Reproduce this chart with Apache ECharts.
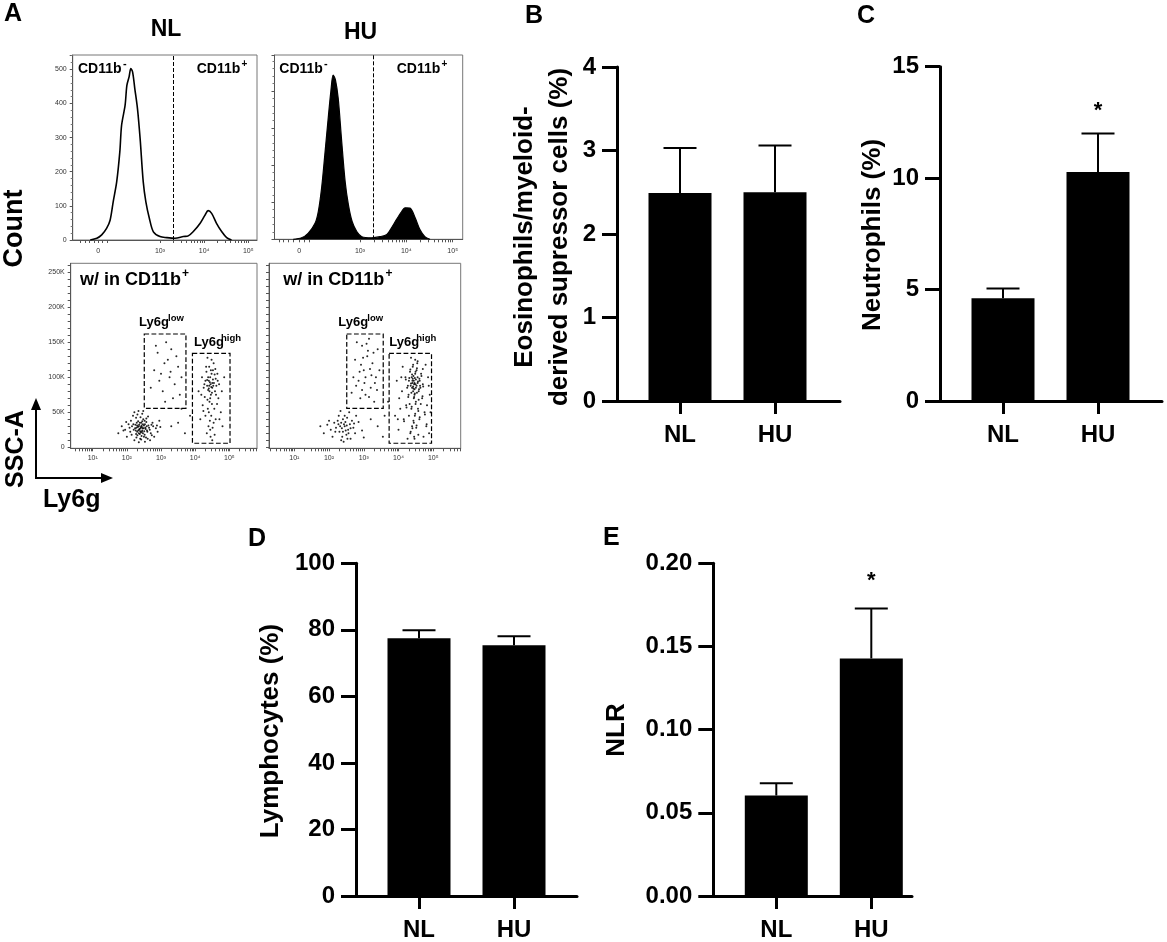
<!DOCTYPE html>
<html lang="en">
<head>
<meta charset="UTF-8">
<title>Figure</title>
<script src="https://cdn.jsdelivr.net/npm/echarts@6.0.0/dist/echarts.min.js"></script>
<style>
  html, body { margin: 0; padding: 0; background: #fff; }
  #main { width: 1167px; height: 942px; }
</style>
</head>
<body>
<div id="main"></div>
<script>
// ---- bar panels (B-E) ----
var groups = ['NL', 'HU'];
var eosMean = [2.49, 2.50];
var eosErr = [3.03, 3.06];
var neuMean = [4.61, 10.28];
var neuErr = [5.05, 12.0];
var neuStar = [null, 13.0];
var lymMean = [77.5, 75.4];
var lymErr = [79.9, 78.1];
var nlrMean = [0.0604, 0.1428];
var nlrErr = [0.0678, 0.1728];
var nlrStar = [null, 0.1896];

// ---- panel A: histograms, x in decades (10^3 = 3), y = count ----
var histNL = [[1.42,0],[1.57,5],[1.68,15],[1.79,34],[1.87,58],[1.94,112],[2.02,171],[2.09,258],[2.13,336],
  [2.21,395],[2.25,453],[2.30,478],[2.34,502],[2.38,492],[2.43,443],[2.49,385],[2.55,297],[2.62,171],
  [2.68,112],[2.76,63],[2.85,24],[3.0,10],[3.15,7],[3.34,5],[3.53,10],[3.64,12],[3.75,24],[3.91,49],
  [4.02,73],[4.09,86],[4.17,78],[4.28,49],[4.40,24],[4.51,7],[4.62,0]];
var histHU = [[1.56,0],[1.74,4],[1.88,16],[2.03,43],[2.10,75],[2.17,137],[2.24,227],[2.32,335],[2.37,398],
  [2.42,443],[2.47,430],[2.53,380],[2.60,272],[2.68,155],[2.75,93],[2.83,48],[2.93,21],[3.04,7],[3.25,4],
  [3.43,7],[3.58,13],[3.68,31],[3.79,54],[3.90,75],[3.97,85],[4.08,84],[4.19,58],[4.29,27],[4.40,7],[4.51,0]];
var gateNL = 3.30, gateHU = 3.29;

// ---- panel A: dot plots, x in decades (10^1 = 1), y = SSC-A in K ----
var dotNLneg = [[2.40,27],[2.35,30],[2.45,24],[2.30,22],[2.50,31],[2.42,35],[2.28,28],[2.55,26],[2.38,19],[2.47,33],
  [2.20,25],[2.60,22],[2.33,37],[2.52,18],[2.44,29],[2.36,25],[2.25,32],[2.58,30],[2.41,21],[2.31,17],
  [2.15,30],[2.65,28],[2.48,40],[2.10,22],[2.70,20],[2.27,42],[2.56,14],[2.39,12],[2.05,33],[2.75,35],
  [1.95,25],[2.85,27],[2.18,45],[2.62,44],[2.00,15],[2.80,15],[2.45,48],[2.22,10],[2.68,10],[1.85,30],
  [2.90,22],[2.34,52],[2.53,8],[1.75,20],[2.95,38],[2.12,38],[2.72,32],[2.43,16],[2.29,35],[2.57,36],
  [2.37,26],[2.46,27],[2.32,29],[2.51,23],[2.43,31],[2.39,23],[2.54,28],[2.26,24],
  [2.36,32],[2.44,22],[2.49,27],[2.33,24],[2.41,29],[2.47,20],[2.30,31],[2.53,33],[2.38,35],[2.45,37],
  [2.24,27],[2.59,24],[2.35,20],[2.50,15],[2.27,19],[2.63,31],[2.40,43],[2.19,33],[2.67,25],[2.42,11],
  [2.08,28],[2.77,30],[2.31,47],[2.57,41],[2.14,18],[2.73,17],[1.98,36],[2.88,31],[2.48,52],[2.22,50],
  [2.61,12],[2.35,7],[1.90,24],[2.98,29],[2.52,38],[2.28,14],
  [3.50,35],[3.70,20],[3.60,55],[3.85,45],[3.30,30]];
var dotNLlow = [[3.10,120],[3.25,100],[2.90,135],[3.40,90],[3.05,80],[3.30,140],[2.80,110],[3.50,115],[3.15,150],
  [2.95,95],[3.35,70],[3.20,125],[3.60,100],[2.70,85],[3.00,105],[3.45,130],[3.12,65],[2.85,145],[3.55,75],[3.28,108]];
var dotNLhigh = [[4.45,90],[4.40,95],[4.50,85],[4.38,100],[4.55,92],[4.42,80],[4.48,105],[4.35,88],[4.60,98],[4.46,75],
  [4.30,95],[4.52,110],[4.44,70],[4.58,80],[4.33,108],[4.62,88],[4.41,115],[4.49,62],[4.25,85],[4.65,105],
  [4.37,55],[4.54,120],[4.47,45],[4.28,72],[4.68,70],[4.43,38],[4.56,55],[4.20,100],[4.70,90],[4.39,30],
  [4.51,28],[4.34,20],[4.60,40],[4.45,15],[4.22,60],[4.75,50],[4.15,40],[4.80,30],[4.48,125],[4.36,128],
  [4.10,80],[4.85,100],[4.57,18],[4.30,45],[4.64,62],[4.43,93],[4.47,86],[4.40,84],[4.52,97],
  [4.44,100],[4.50,92],[4.41,88],[4.46,110],[4.38,82],[4.53,88],[4.35,96],[4.57,104],[4.42,65],[4.49,78],
  [4.32,115],[4.61,75],[4.40,50],[4.54,35],[4.27,90],[4.66,95],[4.44,25],[4.36,68],[4.59,112],[4.24,52],
  [4.71,40],[4.50,10],[4.18,75],[4.78,80]];
var dotHUneg = [[2.45,30],[2.35,35],[2.55,25],[2.30,22],[2.60,33],[2.40,40],[2.50,18],[2.20,28],[2.70,28],[2.38,15],
  [2.52,42],[2.15,35],[2.75,20],[2.28,45],[2.62,12],[2.05,25],[2.85,36],[2.42,8],[2.58,50],[1.95,32],
  [2.95,24],[2.10,15],[2.78,45],[2.33,52],[1.85,20],[3.00,14],[2.48,24],[2.25,38],[2.66,38],[1.75,30],
  [2.43,33],[2.37,27],[2.51,31],[2.47,36],[2.32,30],[2.56,20],[2.40,22],[2.62,27],[2.27,33],[2.53,12],
  [2.18,22],[2.72,34],[2.45,45],[2.35,10],[2.00,38],
  [3.40,30],[3.60,45],[3.55,15],[3.70,65],[3.20,40]];
var dotHUlow = [[3.00,110],[3.10,130],[2.85,95],[3.25,120],[2.95,145],[3.35,100],[3.05,75],[2.75,125],[3.20,85],
  [3.40,140],[2.90,70],[3.15,155],[3.30,65],[2.70,100],[3.45,110],[3.02,92],[2.80,150],[3.22,103],[3.12,138],
  [2.92,118],[3.38,82],[2.65,78],[3.05,100],[2.98,128],[3.18,112],[2.88,108],[3.28,135],[3.08,148],[2.78,88],
  [3.32,92],[3.15,72],[2.95,82]];
var dotHUhigh = [[4.45,90],[4.40,95],[4.50,85],[4.38,100],[4.55,92],[4.42,80],[4.48,105],[4.35,88],[4.60,98],[4.46,75],
  [4.30,95],[4.52,110],[4.44,70],[4.58,80],[4.33,108],[4.62,88],[4.41,115],[4.49,62],[4.25,85],[4.65,105],
  [4.37,55],[4.54,120],[4.47,45],[4.28,72],[4.68,70],[4.43,38],[4.56,55],[4.20,100],[4.70,90],[4.39,30],
  [4.51,28],[4.34,20],[4.60,40],[4.45,15],[4.22,60],[4.75,50],[4.15,40],[4.80,30],[4.48,125],[4.36,128],
  [4.10,80],[4.85,100],[4.57,18],[4.30,45],[4.64,62],[4.05,55],[4.90,75],[4.00,25],[4.88,20],[3.95,95],
  [4.40,92],[4.50,97],[4.46,83],[4.42,87],[4.53,78],[4.37,78],[4.43,102],[4.58,68],[4.32,62],[4.70,112],
  [3.90,45],[4.82,60],[4.12,115],[4.26,12],[4.72,15],[4.44,95],[4.49,90],[4.39,85],[4.55,100],[4.47,99],
  [4.46,92],[4.41,98],[4.52,88],[4.39,104],[4.56,94],[4.43,84],[4.49,108],[4.36,91],[4.61,95],[4.47,77],
  [4.31,99],[4.53,113],[4.45,72],[4.59,83],[4.34,111],[4.63,85],[4.42,118],[4.50,65],[4.27,88],[4.66,102],
  [4.38,58],[4.55,123],[4.48,48],[4.29,75],[4.69,73],[4.44,35],[4.57,52],[4.21,97],[4.71,87],[4.40,27],
  [4.52,31],[4.35,22],[4.61,43],[4.46,12],[4.23,57],[4.76,47],[4.16,37],[4.81,33],[4.02,70],[4.87,88],
  [3.98,40],[4.92,50],[4.08,100],[4.78,118]];
// gates: [x1, y1, x2, y2]
var gatesNL = [[2.51, 55.7, 3.73, 161.9], [3.92, 5.7, 5.02, 134.3]];
var gatesHU = [[2.51, 55.7, 3.56, 161.9], [3.73, 5.7, 4.95, 134.3]];

var FONT = "'Liberation Sans', Arial, Helvetica, sans-serif";
var sup = { '1': '\u00b9', '2': '\u00b2', '3': '\u00b3', '4': '\u2074', '5': '\u2075' };

function logTicks(lo, hi, majors) {
    var out = majors.slice();
    for (var d = 3; d <= 5; d++) {
        for (var k = 2; k <= 9; k++) {
            var v = d + Math.log10(k);
            if (v > lo && v < hi) out.push(v);
        }
    }
    return out;
}
function dotTicks(lo, hi) {
    var out = [];
    for (var d = 0; d <= 5; d++) {
        for (var k = 1; k <= 9; k++) {
            var v = d + Math.log10(k);
            if (v > lo && v < hi) out.push(v);
        }
    }
    return out;
}

var flowAxisLine = { show: true, onZero: false, lineStyle: { color: '#555', width: 1 } };
var flowLabel = { fontFamily: FONT, fontSize: 7, color: '#333' };

var grids = [], xAxes = [], yAxes = [], series = [];

// histogram NL
grids.push({ left: 72.7, top: 55, width: 184.3, height: 185 });
xAxes.push({ gridIndex: 0, type: 'value', min: 1.023, max: 5.197, splitLine: { show: false }, axisLine: flowAxisLine,
    axisTick: { customValues: logTicks(1.023, 5.197, [1.6, 3, 4, 5]).concat([1.2, 1.3, 1.4, 1.5, 1.7, 1.8]), length: 3, lineStyle: { color: '#555' } },
    axisLabel: Object.assign({ customValues: [1.6, 3, 4, 5], margin: 8,
        formatter: function (v) { return v < 2 ? '0' : '10' + sup[Math.round(v)]; } }, flowLabel) });
yAxes.push({ gridIndex: 0, type: 'value', min: 0, max: 542, interval: 100, splitLine: { show: false }, axisLine: flowAxisLine,
    axisTick: { length: 3, lineStyle: { color: '#555' } }, minorTick: { show: true, splitNumber: 5, length: 2, lineStyle: { color: '#777' } },
    axisLabel: Object.assign({ margin: 6, showMaxLabel: false }, flowLabel) });
// histogram HU
grids.push({ left: 274.5, top: 55, width: 188.2, height: 184.3 });
xAxes.push({ gridIndex: 1, type: 'value', min: 1.155, max: 5.216, splitLine: { show: false }, axisLine: flowAxisLine,
    axisTick: { customValues: logTicks(1.155, 5.216, [1.69, 3, 4, 5]).concat([1.25, 1.35, 1.45, 1.55, 1.8, 1.9]), length: 3, lineStyle: { color: '#555' } },
    axisLabel: Object.assign({ customValues: [1.69, 3, 4, 5], margin: 8,
        formatter: function (v) { return v < 2 ? '0' : '10' + sup[Math.round(v)]; } }, flowLabel) });
yAxes.push({ gridIndex: 1, type: 'value', min: 0, max: 497, interval: 100, splitLine: { show: false }, axisLine: flowAxisLine,
    axisTick: { length: 3, lineStyle: { color: '#555' } }, minorTick: { show: true, splitNumber: 5, length: 2, lineStyle: { color: '#777' } },
    axisLabel: { show: false } });
// dot plot NL
grids.push({ left: 70.7, top: 263.3, width: 186.3, height: 185 });
xAxes.push({ gridIndex: 2, type: 'value', min: 0.356, max: 5.81, splitLine: { show: false }, axisLine: flowAxisLine,
    axisTick: { customValues: dotTicks(0.356, 5.81), length: 3, lineStyle: { color: '#555' } },
    axisLabel: Object.assign({ customValues: [1, 2, 3, 4, 5], margin: 6,
        formatter: function (v) { return '10' + sup[Math.round(v)]; } }, flowLabel) });
var kTicks = [];
for (var i = 0; i <= 26; i++) kTicks.push(i * 10);
yAxes.push({ gridIndex: 2, type: 'value', min: -1.5, max: 263, splitLine: { show: false }, axisLine: flowAxisLine,
    axisTick: { customValues: kTicks, length: 3, lineStyle: { color: '#555' } },
    axisLabel: Object.assign({ customValues: [0, 50, 100, 150, 200, 250], margin: 6,
        formatter: function (v) { return v === 0 ? '0' : v + 'K'; } }, flowLabel) });
// dot plot HU
grids.push({ left: 269, top: 263.3, width: 191.7, height: 185 });
xAxes.push({ gridIndex: 3, type: 'value', min: 0.272, max: 5.79, splitLine: { show: false }, axisLine: flowAxisLine,
    axisTick: { customValues: dotTicks(0.272, 5.79), length: 3, lineStyle: { color: '#555' } },
    axisLabel: Object.assign({ customValues: [1, 2, 3, 4, 5], margin: 6,
        formatter: function (v) { return '10' + sup[Math.round(v)]; } }, flowLabel) });
yAxes.push({ gridIndex: 3, type: 'value', min: -1.5, max: 263, splitLine: { show: false }, axisLine: flowAxisLine,
    axisTick: { customValues: kTicks, length: 3, lineStyle: { color: '#555' } },
    axisLabel: { show: false } });

grids.forEach(function (g) { g.show = true; g.borderColor = '#777'; g.borderWidth = 1; });

series.push({ type: 'line', xAxisIndex: 0, yAxisIndex: 0, data: histNL, showSymbol: false, smooth: 0.3,
    lineStyle: { color: '#000', width: 1.6 }, itemStyle: { color: '#000' },
    markLine: { silent: true, symbol: 'none', label: { show: false }, lineStyle: { type: 'dashed', color: '#000', width: 1 }, data: [{ xAxis: gateNL }] } });
series.push({ type: 'line', xAxisIndex: 1, yAxisIndex: 1, data: histHU, showSymbol: false, smooth: 0.3,
    lineStyle: { color: '#000', width: 1.2 }, itemStyle: { color: '#000' }, areaStyle: { color: '#000', opacity: 1 },
    markLine: { silent: true, symbol: 'none', label: { show: false }, lineStyle: { type: 'dashed', color: '#000', width: 1 }, data: [{ xAxis: gateHU }] } });

function gateAreas(gates) {
    return gates.map(function (g) { return [{ coord: [g[0], g[3]] }, { coord: [g[2], g[1]] }]; });
}
var gateStyle = { color: 'rgba(0,0,0,0)', borderColor: '#000', borderWidth: 1.2, borderType: 'dashed' };
series.push({ type: 'scatter', xAxisIndex: 2, yAxisIndex: 2, data: dotNLneg.concat(dotNLlow, dotNLhigh),
    symbolSize: 2, itemStyle: { color: '#000', opacity: 0.85 },
    markArea: { silent: true, itemStyle: gateStyle, data: gateAreas(gatesNL) } });
series.push({ type: 'scatter', xAxisIndex: 3, yAxisIndex: 3, data: dotHUneg.concat(dotHUlow, dotHUhigh),
    symbolSize: 2, itemStyle: { color: '#000', opacity: 0.85 },
    markArea: { silent: true, itemStyle: gateStyle, data: gateAreas(gatesHU) } });

// ---- bar panels ----
var barPanels = [
    { ax: 617, end: 840, top: 67, bottom: 401, max: 4, step: 1, dec: 0, mean: eosMean, err: eosErr, star: null },
    { ax: 940, end: 1162, top: 66.7, bottom: 401, max: 15, step: 5, dec: 0, mean: neuMean, err: neuErr, star: neuStar },
    { ax: 356, end: 577, top: 563.3, bottom: 896.7, max: 100, step: 20, dec: 0, mean: lymMean, err: lymErr, star: null },
    { ax: 713.3, end: 912, top: 563.3, bottom: 896.7, max: 0.2, step: 0.05, dec: 2, mean: nlrMean, err: nlrErr, star: nlrStar }
];
var PX_PER_GROUP = 95, FIRST_OFFSET = 63, BAR_W = 63, CAP = 33;
var thick = { color: '#000', width: 3 };
var bigLabel = { fontFamily: FONT, fontSize: 24, fontWeight: 'bold', color: '#000' };

barPanels.forEach(function (p, n) {
    var gi = grids.length;
    var xmin = 1 - FIRST_OFFSET / PX_PER_GROUP;
    grids.push({ left: p.ax, top: p.top, width: p.end - p.ax, height: p.bottom - p.top });
    xAxes.push({ gridIndex: gi, type: 'value', min: xmin, max: xmin + (p.end - p.ax) / PX_PER_GROUP,
        splitLine: { show: false }, axisLine: { show: true, onZero: false, lineStyle: thick },
        axisTick: { customValues: [1, 2], length: 13, lineStyle: thick },
        axisLabel: Object.assign({ customValues: [1, 2], margin: 22,
            formatter: function (v) { return groups[Math.round(v) - 1]; } }, bigLabel) });
    yAxes.push({ gridIndex: gi, type: 'value', min: 0, max: p.max, interval: p.step,
        splitLine: { show: false }, axisLine: { show: true, onZero: false, lineStyle: thick },
        axisTick: { length: 15, lineStyle: thick },
        axisLabel: Object.assign({ margin: 21, formatter: function (v) { return v.toFixed(p.dec); } }, bigLabel) });
    series.push({ type: 'bar', xAxisIndex: gi, yAxisIndex: gi, barWidth: BAR_W, z: 3,
        itemStyle: { color: '#000' },
        data: p.mean.map(function (m, i) { return [i + 1, m]; }) });
    series.push({ type: 'custom', xAxisIndex: gi, yAxisIndex: gi, z: 2,
        data: p.mean.map(function (m, i) { return [i + 1, m, p.err[i], p.star ? p.star[i] : null]; }),
        renderItem: function (params, api) {
            var x = api.value(0);
            var a = api.coord([x, api.value(1)]);
            var b = api.coord([x, api.value(2)]);
            var kids = [
                { type: 'line', shape: { x1: a[0], y1: a[1], x2: b[0], y2: b[1] }, style: { stroke: '#000', lineWidth: 2 } },
                { type: 'line', shape: { x1: b[0] - CAP / 2, y1: b[1], x2: b[0] + CAP / 2, y2: b[1] }, style: { stroke: '#000', lineWidth: 2 } }
            ];
            var s = api.value(3);
            if (s !== null && !isNaN(s)) {
                var c = api.coord([x, s]);
                kids.push({ type: 'text', x: c[0], y: c[1], style: { text: '*', fontFamily: FONT, fontSize: 22, fontWeight: 'bold',
                    fill: '#000', align: 'center', verticalAlign: 'middle' } });
            }
            return { type: 'group', children: kids };
        } });
});

// ---- texts and arrows ----
function txt(x, y, s, size, o) {
    o = o || {};
    return { type: 'text', x: x, y: y, rotation: o.rot || 0, z: 100,
        style: { text: s, fontFamily: FONT, fontSize: size, fontWeight: 'bold', fill: '#000',
            align: o.align || 'left', verticalAlign: o.va || 'middle', lineHeight: o.lh } };
}
var R = Math.PI / 2;
var graphics = [
    txt(4, 14, 'A', 25), txt(525, 16, 'B', 25), txt(857, 16, 'C', 25), txt(248, 539, 'D', 25), txt(603, 538, 'E', 25),
    txt(166, 30, 'NL', 23, { align: 'center' }), txt(360.5, 32.5, 'HU', 23, { align: 'center' }),
    txt(15, 228.5, 'Count', 27, { rot: R, align: 'center' }),
    txt(16, 449, 'SSC-A', 25, { rot: R, align: 'center' }),
    txt(43, 500, 'Ly6g', 25),
    // gate annotations, histograms
    txt(78, 69, 'CD11b', 14), txt(123, 64, '-', 11),
    txt(196.7, 69, 'CD11b', 14), txt(241.5, 64, '+', 10),
    txt(279.3, 69, 'CD11b', 14), txt(324, 64, '-', 11),
    txt(396.7, 69, 'CD11b', 14), txt(441.5, 64, '+', 10),
    // dot plots
    txt(80, 280, 'w/ in CD11b', 18), txt(182, 274, '+', 12),
    txt(283.3, 280, 'w/ in CD11b', 18), txt(385.5, 274, '+', 12),
    txt(139, 322, 'Ly6g', 13), txt(168, 318, 'low', 9.5),
    txt(194, 342, 'Ly6g', 13), txt(221, 338, 'high', 9.5),
    txt(338.3, 322, 'Ly6g', 13), txt(367.3, 318, 'low', 9.5),
    txt(389.3, 342, 'Ly6g', 13), txt(416.3, 338, 'high', 9.5),
    // bar y titles
    txt(542, 237, 'Eosinophils/myeloid-\nderived supressor cells (%)', 26, { rot: R, align: 'center', lh: 35 }),
    txt(873, 235, 'Neutrophils (%)', 26, { rot: R, align: 'center' }),
    txt(271, 731, 'Lymphocytes (%)', 26, { rot: R, align: 'center' }),
    txt(617, 730, 'NLR', 26, { rot: R, align: 'center' }),
    // arrows
    { type: 'polyline', shape: { points: [[36, 408], [36, 478], [104, 478]] }, style: { stroke: '#000', lineWidth: 2, fill: null } },
    { type: 'polygon', shape: { points: [[36, 398], [31, 410], [41, 410]] }, style: { fill: '#000' } },
    { type: 'polygon', shape: { points: [[113, 478], [101, 473], [101, 483]] }, style: { fill: '#000' } }
];

var chart = echarts.init(document.getElementById('main'));
chart.setOption({
    animation: false,
    backgroundColor: '#fff',
    grid: grids,
    xAxis: xAxes,
    yAxis: yAxes,
    series: series,
    graphic: graphics
});
</script>
</body>
</html>
